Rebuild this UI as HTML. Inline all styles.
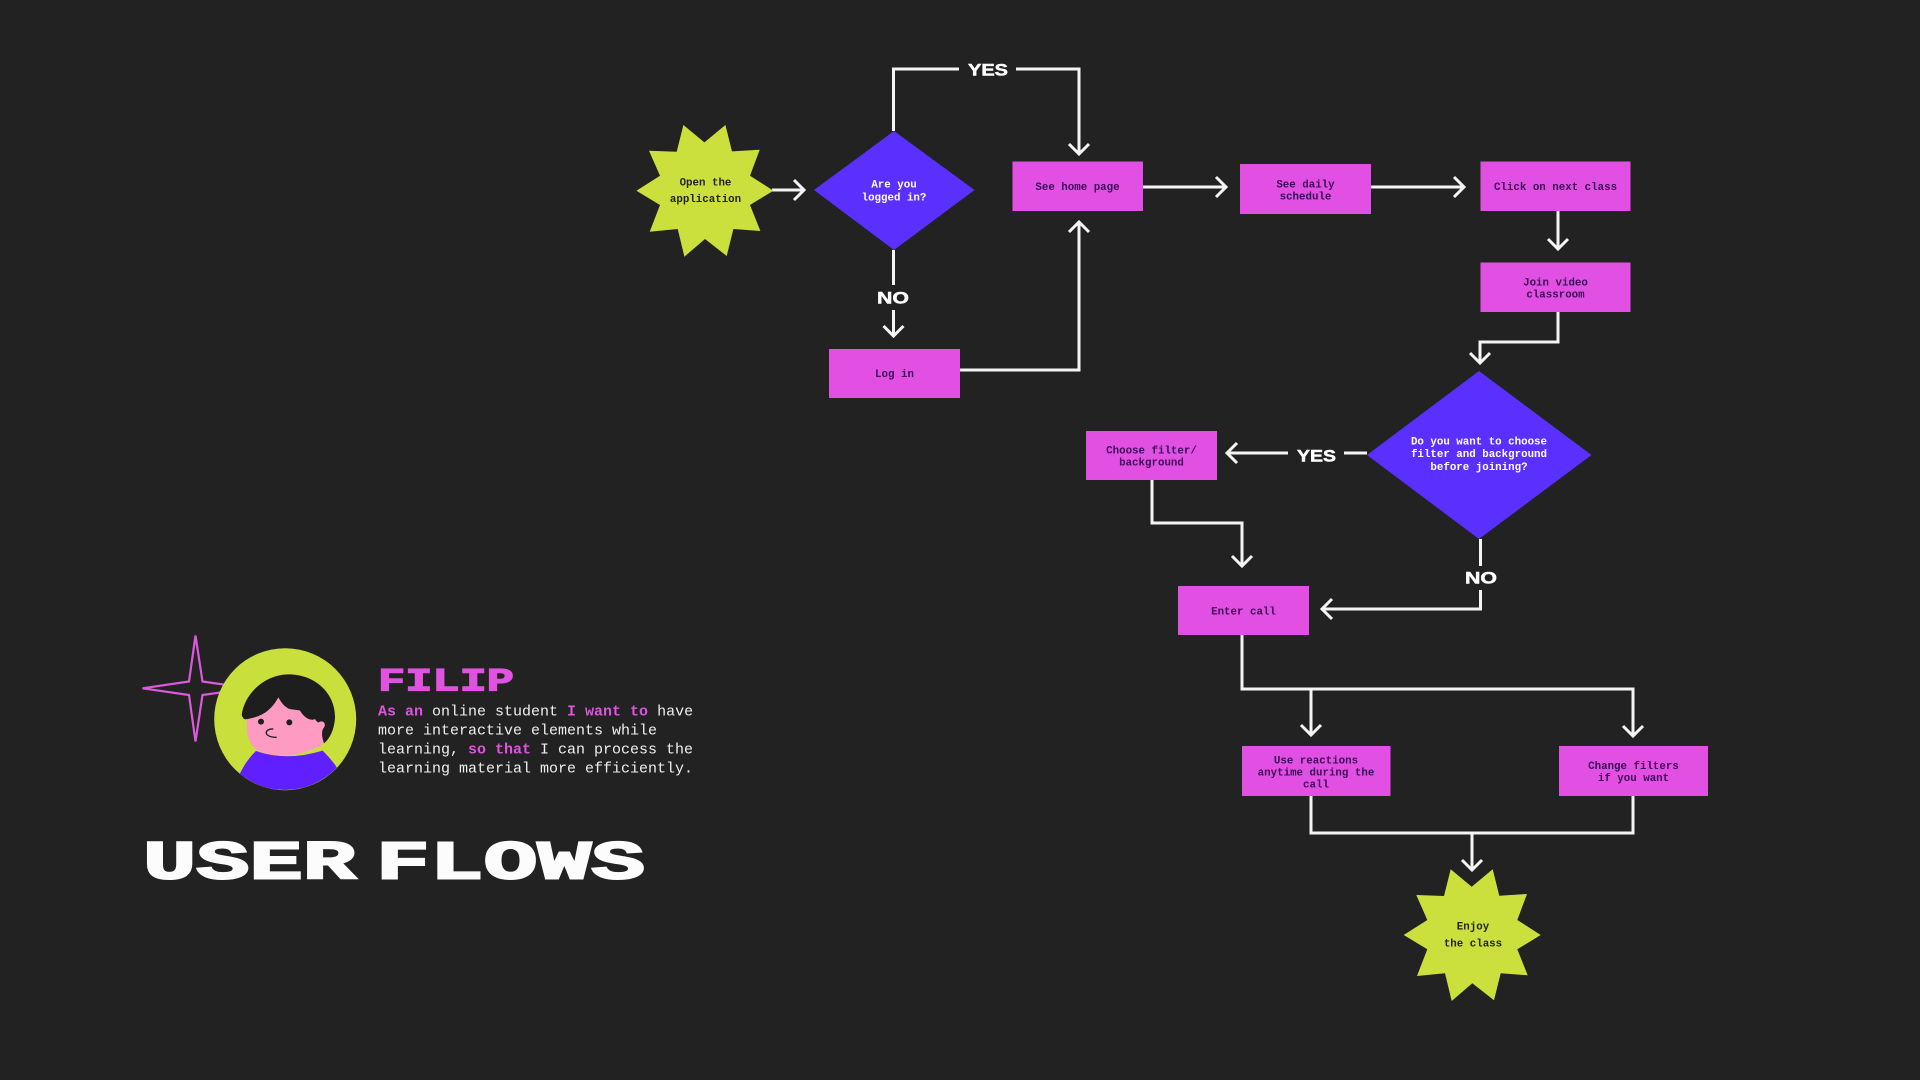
<!DOCTYPE html>
<html><head><meta charset="utf-8"><title>User Flows</title>
<style>
html,body{margin:0;padding:0;background:#232223;width:1920px;height:1080px;overflow:hidden}
svg{display:block}
text{font-family:"Liberation Mono",monospace}
.b{font-size:10.8px;font-weight:700;fill:#3a0a56;text-anchor:middle}
.s{font-size:10.8px;font-weight:700;fill:#23251a;text-anchor:middle}
.d{font-size:10.8px;font-weight:700;fill:#fff;text-anchor:middle}
.l{font-family:"Liberation Sans",sans-serif;font-size:17px;font-weight:700;fill:#fff;stroke:#fff;stroke-width:.5}
.c{fill:none;stroke:#f4f4f4;stroke-width:3;stroke-linejoin:miter}
.p{font-size:15px;fill:#efefef}
.p tspan.h{fill:#e052e0;font-weight:700}
</style></head>
<body>
<svg width="1920" height="1080" viewBox="0 0 1920 1080" xmlns="http://www.w3.org/2000/svg">
<rect width="1920" height="1080" fill="#232223"/>

<!-- connectors -->
<g class="c">
<path d="M772 190H803"/><path d="M794 180L804 190L794 200"/>
<path d="M893.5 131V69H959"/><path d="M1016 69H1079V153"/><path d="M1069 144L1079 154L1089 144"/>
<path d="M893.5 250V285"/><path d="M893.5 310V336"/><path d="M883.5 326L893.5 336L903.5 326"/>
<path d="M960 370H1079V223"/><path d="M1069 232L1079 222L1089 232"/>
<path d="M1143 187H1225"/><path d="M1216 177L1226 187L1216 197"/>
<path d="M1371 187H1463"/><path d="M1454 177L1464 187L1454 197"/>
<path d="M1558 211V249"/><path d="M1548 239L1558 249L1568 239"/>
<path d="M1558 312V342H1480V363"/><path d="M1470 353L1480 363L1490 353"/>
<path d="M1367 453H1344"/><path d="M1288 453H1228"/><path d="M1237 443L1227 453L1237 463"/>
<path d="M1152 480V523H1242V566"/><path d="M1232 556L1242 566L1252 556"/>
<path d="M1480.5 539V566"/><path d="M1480.5 590V609H1323"/><path d="M1332 599L1322 609L1332 619"/>
<path d="M1242 635V689H1633V736"/><path d="M1623 726L1633 736L1643 726"/>
<path d="M1311 689V735"/><path d="M1301 725L1311 735L1321 725"/>
<path d="M1311 796V833H1633V796"/>
<path d="M1472 833V870"/><path d="M1462 860L1472 870L1482 860"/>
</g>

<!-- stars -->
<polygon fill="#cbe03c" points="1450.7,869.3 1471.7,886.7 1492.7,869.3 1499.3,895.7 1527,894 1517.3,920 1540.7,935 1517.3,949.3 1527.7,975.3 1500.7,973.3 1494,1000.3 1472.3,983.3 1451.7,1001 1445,973.3 1417,976 1427.3,949.3 1403.7,935 1427.3,920 1416.3,895 1444,896"/>
<polygon fill="#cbe03c" transform="translate(-767.3,-744.3)" points="1450.7,869.3 1471.7,886.7 1492.7,869.3 1499.3,895.7 1527,894 1517.3,920 1540.7,935 1517.3,949.3 1527.7,975.3 1500.7,973.3 1494,1000.3 1472.3,983.3 1451.7,1001 1445,973.3 1417,976 1427.3,949.3 1403.7,935 1427.3,920 1416.3,895 1444,896"/>

<!-- diamonds -->
<polygon fill="#5a30ff" points="894,131 974.5,190 894,250 814,190"/>
<polygon fill="#5a30ff" points="1479,371 1591.5,455 1479,539 1367,455"/>

<!-- rects -->
<g fill="#e250e3">
<rect x="1012.5" y="161.5" width="130.5" height="49.5"/>
<rect x="829" y="349" width="131" height="49"/>
<rect x="1240" y="164" width="131" height="50"/>
<rect x="1480.5" y="161.5" width="150" height="49.5"/>
<rect x="1480.5" y="262.5" width="150" height="49.5"/>
<rect x="1086" y="431" width="131" height="49"/>
<rect x="1178" y="586" width="131" height="49"/>
<rect x="1242" y="746" width="148.5" height="50"/>
<rect x="1559" y="746" width="149" height="50"/>
</g>

<!-- node labels -->
<text class="s" x="705.5" y="185.5">Open the</text><text class="s" x="705.5" y="202">application</text>
<text class="d" x="894" y="187.5">Are you</text><text class="d" x="894" y="200.5">logged in?</text>
<text class="b" x="1077.5" y="190">See home page</text>
<text class="b" x="894.5" y="377">Log in</text>
<text class="b" x="1305.5" y="187.5">See daily</text><text class="b" x="1305.5" y="199.5">schedule</text>
<text class="b" x="1555.5" y="190">Click on next class</text>
<text class="b" x="1555.5" y="285.5">Join video</text><text class="b" x="1555.5" y="297.5">classroom</text>
<text class="d" x="1479" y="444.5">Do you want to choose</text><text class="d" x="1479" y="457">filter and background</text><text class="d" x="1479" y="470">before joining?</text>
<text class="b" x="1151.5" y="453.5">Choose filter/</text><text class="b" x="1151.5" y="465.5">background</text>
<text class="b" x="1243.5" y="614.5">Enter call</text>
<text class="b" x="1316" y="763.5">Use reactions</text><text class="b" x="1316" y="775.5">anytime during the</text><text class="b" x="1316" y="787.5">call</text>
<text class="b" x="1633.5" y="769">Change filters</text><text class="b" x="1633.5" y="781">if you want</text>
<text class="s" x="1473" y="929.5">Enjoy</text><text class="s" x="1473" y="946.5">the class</text>

<!-- connector labels -->
<text class="l" x="968" y="75.5" textLength="40" lengthAdjust="spacingAndGlyphs">YES</text>
<text class="l" x="877" y="303.5" textLength="32" lengthAdjust="spacingAndGlyphs">NO</text>
<text class="l" x="1297" y="461.5" textLength="39" lengthAdjust="spacingAndGlyphs">YES</text>
<text class="l" x="1465" y="583.5" textLength="32" lengthAdjust="spacingAndGlyphs">NO</text>

<!-- persona -->
<polygon fill="none" stroke="#dc58dc" stroke-width="2.2" points="195.5,635.5 202.5,681.5 250,688.3 202.5,695 195.5,741.5 189,695 142.5,688.3 189,681.5"/>
<circle cx="285.2" cy="719.2" r="71" fill="#c9df3c"/>
<g transform="translate(130,620) scale(.33333)">
<defs><clipPath id="cc"><circle cx="465" cy="297" r="213"/></clipPath></defs>
<path fill="#5f1fff" clip-path="url(#cc)" d="M330 460C345 430 360 410 378 393Q470 425 578 392C595 410 610 425 622 445L620 520H320Z"/>
<path fill="#ff9ac2" d="M350 295L352 340Q358 375 385 393Q470 428 578 375L588 320L560 270L440 225Z"/>
<path fill="#1e1e1e" d="M335 285C345 215 410 163 475 163C560 163 618 225 615 295C612 330 600 355 582 370C575 350 574 335 580 325C590 315 582 300 570 305C565 310 560 305 555 297C540 305 520 290 510 272C498 268 478 270 470 262C458 255 450 240 445 232C425 270 395 292 345 298Q338 295 335 285Z"/>
<circle cx="393" cy="305" r="9" fill="#1e1e1e"/><circle cx="478" cy="307" r="9" fill="#1e1e1e"/>
<path fill="none" stroke="#1e1e1e" stroke-width="4" d="M430 327C402 325 398 352 440 352"/>
</g>

<text x="378" y="690.5" font-family="Liberation Mono, monospace" font-weight="700" font-size="32" fill="#e052e0" stroke="#e052e0" stroke-width="1.2" textLength="136" lengthAdjust="spacingAndGlyphs">FILIP</text>

<text class="p" x="378" y="715.5" xml:space="preserve"><tspan class="h">As an</tspan> online student <tspan class="h">I want to</tspan> have</text>
<text class="p" x="378" y="734.5">more interactive elements while</text>
<text class="p" x="378" y="753.5" xml:space="preserve">learning, <tspan class="h">so that</tspan> I can process the</text>
<text class="p" x="378" y="772.5">learning material more efficiently.</text>

<text x="143" y="878.5" font-family="Liberation Sans, sans-serif" font-weight="700" font-size="55" fill="#fcfcfc" stroke="#fcfcfc" stroke-width="2" textLength="213" lengthAdjust="spacingAndGlyphs">USER</text>
<text x="376" y="878.5" font-family="Liberation Sans, sans-serif" font-weight="700" font-size="55" fill="#fcfcfc" stroke="#fcfcfc" stroke-width="2" textLength="269" lengthAdjust="spacingAndGlyphs">FLOWS</text>
</svg>
</body></html>
